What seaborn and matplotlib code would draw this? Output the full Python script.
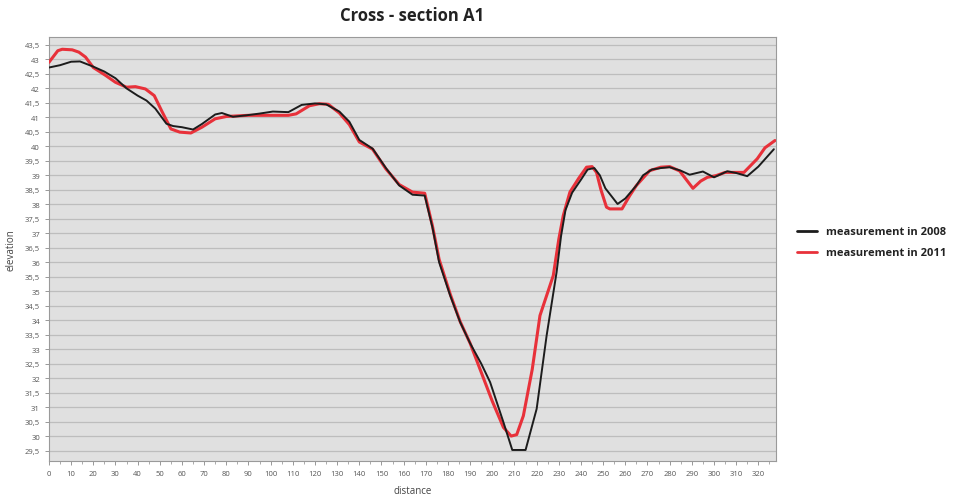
import numpy as np
import pandas as pd
import matplotlib
matplotlib.use("Agg")
import matplotlib.pyplot as plt
from matplotlib.ticker import MultipleLocator, FuncFormatter
from matplotlib.lines import Line2D
import seaborn as sns

# ---- data ----
dist_2008 = [0, 5, 10, 14, 20, 25, 30, 35, 40, 44, 48, 53, 56, 60, 65, 69, 75, 78, 83, 89,
             95, 101, 108, 114, 120, 125, 131, 135.5, 140, 146, 152, 158, 164, 169.5, 173,
             176, 181, 185.5, 190, 195, 199, 205, 209, 215, 220, 224.5, 229, 231, 233, 236,
             240, 243, 246, 248.5, 251, 256.5, 260, 265, 268, 272, 276, 280, 285, 289, 295,
             300, 306, 310, 315, 320, 327]
elev_2008 = [42.72, 42.80, 42.92, 42.93, 42.75, 42.58, 42.35, 42.0, 41.75, 41.58, 41.3, 40.78,
             40.7, 40.66, 40.58, 40.77, 41.1, 41.15, 41.02, 41.07, 41.13, 41.2, 41.18, 41.43,
             41.48, 41.45, 41.2, 40.85, 40.22, 39.92, 39.25, 38.65, 38.33, 38.3, 37.2, 36.0,
             34.85, 33.93, 33.2, 32.5, 31.86, 30.48, 29.52, 29.52, 30.94, 33.47, 35.66, 36.9,
             37.8, 38.4, 38.85, 39.2, 39.25, 39.0, 38.55, 38.01, 38.2, 38.65, 39.0, 39.2,
             39.25, 39.28, 39.16, 39.02, 39.13, 38.93, 39.14, 39.08, 38.97, 39.3, 39.9]

dist_2011 = [0, 4, 6, 10.5, 13.5, 16.5, 20, 25.5, 30, 35, 39, 43.5, 47.5, 51, 55, 59, 64, 69,
             75, 80, 90, 100, 108, 111.5, 117.5, 122, 126, 131, 135.5, 140, 146, 152, 158,
             164, 169.5, 173, 176, 181, 185.5, 190, 195, 200, 205, 208.5, 211, 214, 218,
             221.5, 227.5, 230, 232, 235, 239, 242.5, 245, 247, 249, 251.5, 253, 258.5, 262,
             265, 271, 276, 280, 284.5, 288, 290.5, 294, 297, 301, 305, 313.5, 319.5, 323,
             327.5]
elev_2011 = [42.9, 43.3, 43.35, 43.33, 43.25, 43.08, 42.72, 42.45, 42.21, 42.04, 42.06, 41.98,
             41.75, 41.2, 40.6, 40.49, 40.46, 40.66, 40.95, 41.03, 41.07, 41.07, 41.07, 41.12,
             41.4, 41.47, 41.45, 41.15, 40.75, 40.15, 39.9, 39.22, 38.68, 38.42, 38.38, 37.25,
             36.1, 34.9, 33.95, 33.2, 32.2, 31.2, 30.3, 30.0, 30.05, 30.7, 32.3, 34.16, 35.54,
             36.8, 37.61, 38.42, 38.9, 39.28, 39.3, 39.1, 38.5, 37.9, 37.84, 37.84, 38.3,
             38.65, 39.16, 39.28, 39.3, 39.15, 38.8, 38.55, 38.8, 38.93, 38.99, 39.1, 39.1,
             39.57, 39.95, 40.2]

series_labels = ["measurement in 2008", "measurement in 2011"]
title = "Cross - section A1"

df08 = pd.DataFrame({"distance": dist_2008, "elevation": elev_2008})
df11 = pd.DataFrame({"distance": dist_2011, "elevation": elev_2011})

sns.set_style("white")
plt.rcParams["font.family"] = ["Open Sans", "DejaVu Sans"]

fig = plt.figure(figsize=(9.58, 5.02), dpi=100)
ax = fig.add_axes([0.0511, 0.0797, 0.759, 0.845])
ax.set_facecolor("#e0e0e0")

c08 = "#1c1c1c"
c11 = "#e8313a"
sns.lineplot(data=df11, x="distance", y="elevation", ax=ax, color=c11, linewidth=2.2,
             sort=False, estimator=None, zorder=3)
sns.lineplot(data=df08, x="distance", y="elevation", ax=ax, color=c08, linewidth=1.4,
             sort=False, estimator=None, zorder=4)

ax.set_xlim(0, 328)
ax.set_ylim(29.14, 43.78)
ax.xaxis.set_major_locator(MultipleLocator(10))
ax.xaxis.set_minor_locator(MultipleLocator(5))
ax.yaxis.set_major_locator(MultipleLocator(0.5))

def fmt(v, pos):
    s = ("%g" % round(v, 1))
    return s.replace(".", ",")
ax.yaxis.set_major_formatter(FuncFormatter(fmt))

ax.grid(axis="y", color="#bdbdbd", linewidth=0.9)
ax.grid(axis="x", visible=False)
ax.set_axisbelow(True)

for sp in ax.spines.values():
    sp.set_color("#9a9a9a")
    sp.set_linewidth(0.8)

ax.tick_params(axis="both", which="major", labelsize=5.5, labelcolor="#555555",
               color="#888888", length=3, width=0.6, direction="out", left=True, bottom=True)
ax.tick_params(axis="x", which="minor", length=2, width=0.5, color="#888888", bottom=True)

ax.set_xlabel("distance", fontsize=7, color="#444444", labelpad=6)
ax.set_ylabel("elevation", fontsize=7, color="#444444", labelpad=6)
ax.set_title(title, fontsize=12, fontweight="bold", color="#222222", pad=12)

handles = [Line2D([], [], color=c08, linewidth=2),
           Line2D([], [], color=c11, linewidth=2)]
leg = fig.legend(handles, series_labels, loc="center left", bbox_to_anchor=(0.822, 0.515),
                 frameon=False, fontsize=8, handlelength=1.8, labelspacing=0.9)
for t in leg.get_texts():
    t.set_fontweight("bold")
    t.set_color("#222222")

fig.savefig("out.png", dpi=100)
